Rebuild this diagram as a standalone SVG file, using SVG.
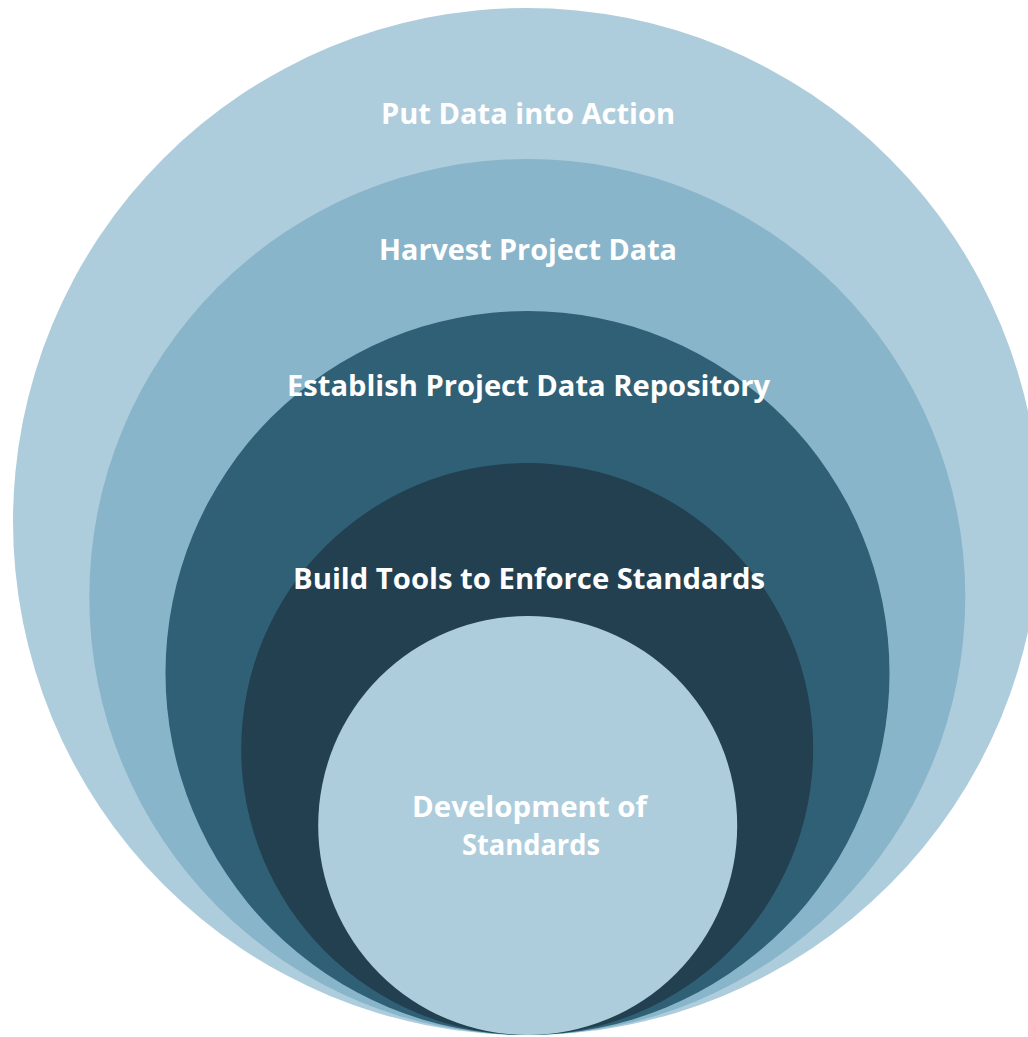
<svg xmlns="http://www.w3.org/2000/svg" width="1028" height="1037" viewBox="0 0 1028 1037">
<style>
text{font-family:"Open Sans","Liberation Sans",sans-serif;font-weight:bold;font-size:29px;fill:#ffffff;text-anchor:middle}
</style>
<rect width="1028" height="1037" fill="#ffffff"/>
<g id="ring1"><circle cx="526.5" cy="521.5" r="513.5" fill="#AECDDC"/><text x="528" y="124" textLength="294" lengthAdjust="spacingAndGlyphs">Put Data into Action</text></g>
<g id="ring2"><circle cx="527.3" cy="597" r="438" fill="#88B5CA"/><text x="528" y="260" textLength="298" lengthAdjust="spacingAndGlyphs">Harvest Project Data</text></g>
<g id="ring3"><circle cx="527.5" cy="673" r="362" fill="#306075"/><text x="528.5" y="396" textLength="483" lengthAdjust="spacingAndGlyphs">Establish Project Data Repository</text></g>
<g id="ring4"><circle cx="527.2" cy="749" r="286" fill="#22404F"/><text x="529" y="589" textLength="472" lengthAdjust="spacingAndGlyphs">Build Tools to Enforce Standards</text></g>
<g id="core"><circle cx="527.7" cy="825.5" r="209.5" fill="#AECDDC"/><text x="529.5" y="817" textLength="235" lengthAdjust="spacingAndGlyphs">Development of</text><text x="531" y="855" textLength="138" lengthAdjust="spacingAndGlyphs">Standards</text></g>
<g id="connectors"/>
</svg>
